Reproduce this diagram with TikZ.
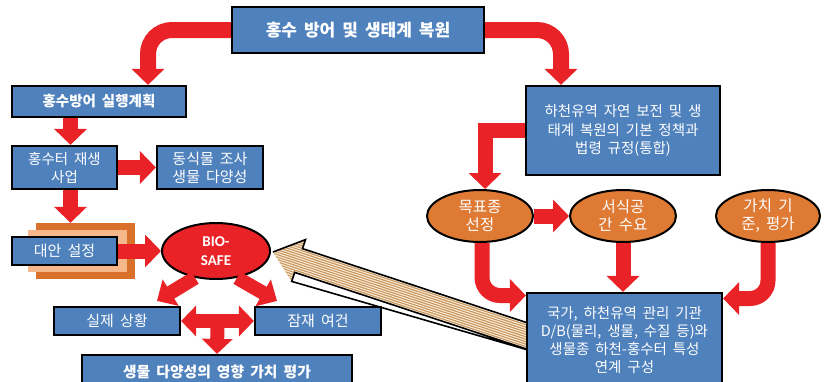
\documentclass[tikz,border=0pt]{standalone}
\usepackage{fontspec}
\setmainfont[WordSpace=1.8]{Noto Sans CJK KR}
\newfontfamily\latinbold{Carlito}
\usetikzlibrary{arrows.meta,calc,shapes.geometric}
\definecolor{boxblue}{RGB}{79,129,189}
\definecolor{arrred}{RGB}{232,34,38}
\definecolor{ellorange}{RGB}{222,122,52}
\definecolor{frameorange}{RGB}{217,112,44}
\definecolor{framepeach}{RGB}{246,183,139}
\definecolor{stripetan}{RGB}{198,148,92}
\definecolor{stripecream}{RGB}{250,236,214}
\tikzset{
  bbox/.style={draw=black,line width=2.2pt,fill=boxblue,text=white,align=center,inner sep=0pt},
  oval/.style={ellipse,draw=black,line width=2pt,fill=ellorange,text=white,align=center,inner sep=0pt,
    minimum width=106pt,minimum height=52pt,font=\fontsize{15.5}{18}\selectfont},
  rarrow/.style={draw=arrred,line width=15pt,-{Triangle[width=32pt,length=16pt]}},
  rdarrow/.style={draw=arrred,line width=14pt,{Triangle[width=30pt,length=15pt]}-{Triangle[width=30pt,length=15pt]}},
  normtxt/.style={font=\fontsize{14.5}{18.5}\selectfont},
}
\begin{document}
\begin{tikzpicture}[x=1pt,y=-1pt]
\useasboundingbox (0,0) rectangle (825,381);

% striped arrow (drawn first, box covers its end)
\begin{scope}
\path[clip] (273,252) -- (305.5,239.6) -- (302.5,248.6) -- (540,327) -- (540,353.5) -- (294.7,272.4) -- (291.7,281.4) -- cycle;
\fill[stripetan] (260,230) rectangle (545,360);
\foreach \k in {-11,...,11} {
  \draw[stripecream,line width=1pt] ({273-0.314*\k*2.3-20*0.9494},{252+0.9494*\k*2.3-20*0.314}) -- ++({300*0.9494},{300*0.314});
}
\end{scope}
\draw[black,line width=1.6pt,line join=miter] (273,252) -- (305.5,239.6) -- (302.5,248.6) -- (540,327) (540,353.5) -- (294.7,272.4) -- (291.7,281.4) -- cycle;

% boxes
\node[bbox,minimum width=252pt,minimum height=46pt,font=\bfseries\fontsize{17}{20}\selectfont] (top) at (358,30) {홍수 방어 및 생태계 복원};
\node[bbox,minimum width=174pt,minimum height=31pt,font=\bfseries\fontsize{14.5}{18}\selectfont] (plan) at (99,101.5) {홍수방어 실행계획};
\node[bbox,minimum width=105pt,minimum height=43pt,font=\fontsize{14.5}{18}\selectfont] (regen) at (64.5,167.5) {홍수터 재생\\사업};
\node[bbox,minimum width=106pt,minimum height=43pt,font=\fontsize{15}{18}\selectfont] (survey) at (210,167.5) {동식물 조사\\생물 다양성};
\node[bbox,minimum width=194pt,minimum height=89pt,normtxt] (policy) at (623,130.5) {하천유역 자연 보전 및 생\\태계 복원의 기본 정책과\\법령 규정(통합)};

\node[draw=none,fill=frameorange,minimum width=99pt,minimum height=56pt,inner sep=0pt] (altback) at (85.5,251) {};
\node[draw=none,fill=framepeach,minimum width=99pt,minimum height=42pt,inner sep=0pt] (altmid) at (77.5,251) {};
\node[bbox,minimum width=105pt,minimum height=28pt,font=\fontsize{15}{18}\selectfont] (alt) at (64.5,251) {대안 설정};

\node[ellipse,draw=black,line width=2pt,fill=arrred,text=white,align=center,inner sep=0pt,
  minimum width=108pt,minimum height=56pt,font=\latinbold\bfseries\fontsize{15}{19}\selectfont] (bio) at (216,251) {BIO-\\SAFE};

\node[bbox,minimum width=126pt,minimum height=28pt,font=\fontsize{15}{18}\selectfont] (real) at (117,321) {실제 상황};
\node[bbox,minimum width=126pt,minimum height=28pt,font=\fontsize{15}{18}\selectfont] (latent) at (318,321) {잠재 여건};
\node[bbox,minimum width=270pt,minimum height=34pt,font=\bfseries\fontsize{14.8}{18}\selectfont] (eval) at (217,372) {생물 다양성의 영향 가치 평가};

\node[oval] (goal) at (480,216) {목표종\\선정};
\node[oval] (habitat) at (623,216) {서식공\\간 수요};
\node[oval,minimum width=104pt] (value) at (768,216) {가치 기\\준, 평가};

\node[bbox,minimum width=195pt,minimum height=95pt,font=\fontsize{14.5}{18}\selectfont] (org) at (624.5,340.5) {국가, 하천유역 관리 기관\\D/B(물리, 생물, 수질 등)와\\생물종 하천-홍수터 특성\\연계 구성};

% arrows
\draw[rarrow,line width=16pt,rounded corners=24pt] (top.west) -| ([xshift=49pt]plan.north);
\draw[rarrow,line width=16pt,rounded corners=24pt] (top.east) -| ([xshift=-62pt]policy.north);
\draw[rarrow] ([xshift=6pt]regen.north |- plan.south) -- ([xshift=6pt]regen.north);
\draw[rarrow] (regen.east) -- (survey.west);
\draw[rarrow] ([xshift=6pt]regen.south) -- ([xshift=6pt]regen.south |- altback.north);
\draw[rarrow] (alt.east) -- (bio.west);
\draw[rarrow,line width=14pt,-{Triangle[width=30pt,length=16pt]}] (bio.232) -- ([xshift=40pt,yshift=5pt]real.north);
\draw[rarrow,line width=14pt,-{Triangle[width=30pt,length=16pt]}] (bio.308) -- ([xshift=-41pt,yshift=5pt]latent.north);
\draw[rdarrow] (real.east) -- (latent.west);
\draw[rarrow,line width=14pt,-{Triangle[width=30pt,length=15pt]}] ($(real.east)!0.5!(latent.west)$) -- (eval.north);

\draw[rarrow] (policy.west) -| ([xshift=5pt]goal.north);
\draw[rarrow] (goal.east) -- (habitat.west);
\draw[rarrow,rounded corners=18pt] ([xshift=2pt]goal.south) |- ([yshift=45pt]org.west);
\draw[rarrow] (habitat.south) -- (habitat.south |- org.north);
\draw[rarrow,rounded corners=18pt] (value.south) |- ([yshift=42pt]org.east);
\end{tikzpicture}
\end{document}
